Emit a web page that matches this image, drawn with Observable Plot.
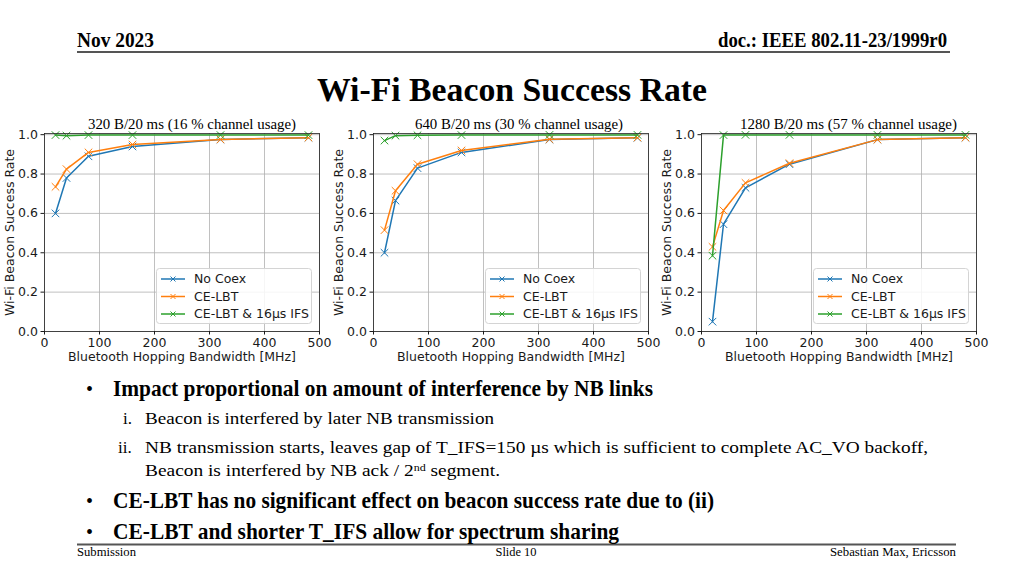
<!DOCTYPE html>
<html><head><meta charset="utf-8">
<script src="https://cdn.jsdelivr.net/npm/d3@7"></script>
<script src="https://cdn.jsdelivr.net/npm/@observablehq/plot@0.6"></script>
<style>
html,body{margin:0;padding:0;background:#fff;}
#page{position:relative;width:1024px;height:576px;overflow:hidden;background:#fff;}
.panel{position:absolute;top:110px;width:330px;height:260px;}
.panel svg{display:block;}
#overlay{position:absolute;left:0;top:0;pointer-events:none;}
</style></head><body><div id="page"></div>
<script>
// ---------------- data ----------------
const bandwidth = [20, 40, 80, 160, 320, 480];
const seriesNames = ["No Coex", "CE-LBT", "CE-LBT & 16µs IFS"];
const seriesColors = ["#1f77b4", "#ff7f0e", "#2ca02c"];
const panelTitles = ["320 B/20 ms (16 % channel usage)", "640 B/20 ms (30 % channel usage)", "1280 B/20 ms (57 % channel usage)"];
const xTicks = [0, 100, 200, 300, 400, 500];
const yTicks = [0, 0.2, 0.4, 0.6, 0.8, 1.0];
const xLabel = "Bluetooth Hopping Bandwidth [MHz]";
const yLabel = "Wi-Fi Beacon Success Rate";

// panel 1: 320 B/20 ms
const noCoex320 = [0.60, 0.78, 0.89, 0.94, 0.975, 0.985];
const ceLbt320 = [0.735, 0.825, 0.91, 0.95, 0.976, 0.985];
const ceLbtIfs320 = [0.998, 0.995, 0.998, 0.998, 0.998, 0.998];
// panel 2: 640 B/20 ms
const noCoex640 = [0.40, 0.665, 0.83, 0.91, 0.975, 0.984];
const ceLbt640 = [0.515, 0.715, 0.85, 0.92, 0.977, 0.985];
const ceLbtIfs640 = [0.97, 0.995, 0.997, 0.998, 0.999, 0.999];
// panel 3: 1280 B/20 ms
const noCoex1280 = [0.05, 0.545, 0.73, 0.85, 0.975, 0.985];
const ceLbt1280 = [0.43, 0.615, 0.755, 0.855, 0.975, 0.985];
const ceLbtIfs1280 = [0.385, 0.998, 0.999, 0.999, 0.999, 0.999];

const panelSeries = [
  [noCoex320, ceLbt320, ceLbtIfs320],
  [noCoex640, ceLbt640, ceLbtIfs640],
  [noCoex1280, ceLbt1280, ceLbtIfs1280]
];

const page = document.getElementById("page");
const panelLefts = [0, 329, 657];

panelSeries.forEach((series, pi) => {
  const data = series.flatMap((vals, si) => vals.map((v, i) => ({bw: bandwidth[i], rate: v, series: seriesNames[si]})));
  const seriesMarks = seriesNames.flatMap(name => {
    const d = data.filter(r => r.series === name);
    return [
      Plot.line(d, {x: "bw", y: "rate", stroke: "series", strokeWidth: 1.5}),
      Plot.dot(d, {x: "bw", y: "rate", stroke: "series", symbol: "times", r: 3.5, strokeWidth: 1})
    ];
  });
  const chart = Plot.plot({
    width: 330, height: 260,
    marginLeft: 44, marginRight: 11, marginTop: 23, marginBottom: 39,
    style: {background: "transparent", fontFamily: "DejaVu Sans", fontSize: "12.5px", color: "#1a1a1a", overflow: "visible"},
    x: {domain: [0, 500]},
    y: {domain: [0, 1.006]},
    color: {domain: seriesNames, range: seriesColors},
    marks: [
      Plot.gridX(xTicks, {stroke: "#b0b0b0", strokeOpacity: 1, strokeWidth: 0.8}),
      Plot.gridY(yTicks, {stroke: "#b0b0b0", strokeOpacity: 1, strokeWidth: 0.8}),
      ...seriesMarks,
      Plot.frame({stroke: "#222", strokeWidth: 0.8}),
      Plot.axisX(xTicks, {tickSize: 3.5, tickPadding: 3, fontSize: 12.5, label: xLabel, labelAnchor: "center", labelOffset: 29, labelArrow: "none"}),
      Plot.axisY(yTicks, {tickSize: 3.5, tickPadding: 3, fontSize: 12.5, tickFormat: d3.format(".1f"), label: yLabel, labelAnchor: "center", labelOffset: 39, labelArrow: "none"})
    ]
  });
  const div = document.createElement("div");
  div.className = "panel";
  div.style.left = panelLefts[pi] + "px";
  div.appendChild(chart);
  // legend
  const leg = d3.create("svg").attr("width", 157).attr("height", 57)
    .style("position", "absolute").style("left", "156px").style("top", "158px").style("overflow", "visible");
  leg.append("rect").attr("x", 0.5).attr("y", 0.5).attr("width", 155).attr("height", 55).attr("rx", 3)
    .attr("fill", "#fff").attr("fill-opacity", 0.85).attr("stroke", "#d4d4d4").attr("stroke-width", 1);
  seriesNames.forEach((name, si) => {
    const yy = 11 + si * 17.5;
    leg.append("line").attr("x1", 5).attr("x2", 29).attr("y1", yy).attr("y2", yy)
      .attr("stroke", seriesColors[si]).attr("stroke-width", 1.5);
    leg.append("path").attr("d", `M${17-2.5},${yy-2.5}L${17+2.5},${yy+2.5}M${17-2.5},${yy+2.5}L${17+2.5},${yy-2.5}`)
      .attr("stroke", seriesColors[si]).attr("stroke-width", 1);
    leg.append("text").attr("x", 38).attr("y", yy).attr("dy", "0.35em")
      .attr("font-family", "DejaVu Sans").attr("font-size", 12.5).attr("fill", "#1a1a1a").text(name);
  });
  div.appendChild(leg.node());
  page.appendChild(div);
});

// overlay with slide texts
const ov = d3.create("svg").attr("id", "overlay").attr("width", 1024).attr("height", 576);
function txt(s, x, y, size, opts = {}) {
  const t = ov.append("text").attr("x", x).attr("y", y)
    .attr("font-family", "'Liberation Serif','Times New Roman',serif")
    .attr("font-size", size).attr("font-weight", opts.bold ? "bold" : "normal")
    .attr("text-anchor", opts.anchor || "start").attr("fill", "#000");
  if (opts.w) t.attr("textLength", opts.w).attr("lengthAdjust", "spacingAndGlyphs");
  if (opts.sup) {
    t.append("tspan").text(s[0]);
    t.append("tspan").attr("baseline-shift", "super").attr("font-size", size * 0.62).text(s[1]);
    t.append("tspan").text(s[2]);
  } else t.text(s);
  return t;
}
// header / footer rules
ov.append("line").attr("x1", 77).attr("x2", 950).attr("y1", 52).attr("y2", 52).attr("stroke", "#555").attr("stroke-width", 2);
ov.append("line").attr("x1", 77).attr("x2", 956).attr("y1", 544.5).attr("y2", 544.5).attr("stroke", "#555").attr("stroke-width", 2);

txt("Nov 2023", 77, 47, 20, {bold: true, w: 77});
txt("doc.: IEEE 802.11-23/1999r0", 947, 47, 20, {bold: true, anchor: "end", w: 229});
txt("Wi-Fi Beacon Success Rate", 512, 101, 33, {bold: true, anchor: "middle", w: 390});

const ptPos = [[88, 208], [415, 208], [740, 217]];
panelTitles.forEach((s, i) => txt(s, ptPos[i][0], 129, 14, {w: ptPos[i][1]}));

txt("•", 86, 396, 20);
txt("Impact proportional on amount of interference by NB links", 113, 396, 24, {bold: true, w: 540});
txt("i.", 123, 424, 17);
txt("Beacon is interfered by later NB transmission", 145, 424, 17, {w: 349});
txt("ii.", 118, 453, 17);
txt("NB transmission starts, leaves gap of T_IFS=150 µs which is sufficient to complete AC_VO backoff,", 145, 453, 17, {w: 783});
txt(["Beacon is interfered by NB ack / 2", "nd", " segment."], 145, 476, 17, {w: 355, sup: true});
txt("•", 86, 508, 20);
txt("CE-LBT has no significant effect on beacon success rate due to (ii)", 113, 508, 24, {bold: true, w: 601});
txt("•", 86, 539, 20);
txt("CE-LBT and shorter T_IFS allow for spectrum sharing", 113, 539, 24, {bold: true, w: 506});

txt("Submission", 77, 556, 12, {w: 59});
txt("Slide 10", 516, 556, 12, {anchor: "middle", w: 41});
txt("Sebastian Max, Ericsson", 956, 556, 12, {anchor: "end", w: 126});

page.appendChild(ov.node());
</script></body></html>
